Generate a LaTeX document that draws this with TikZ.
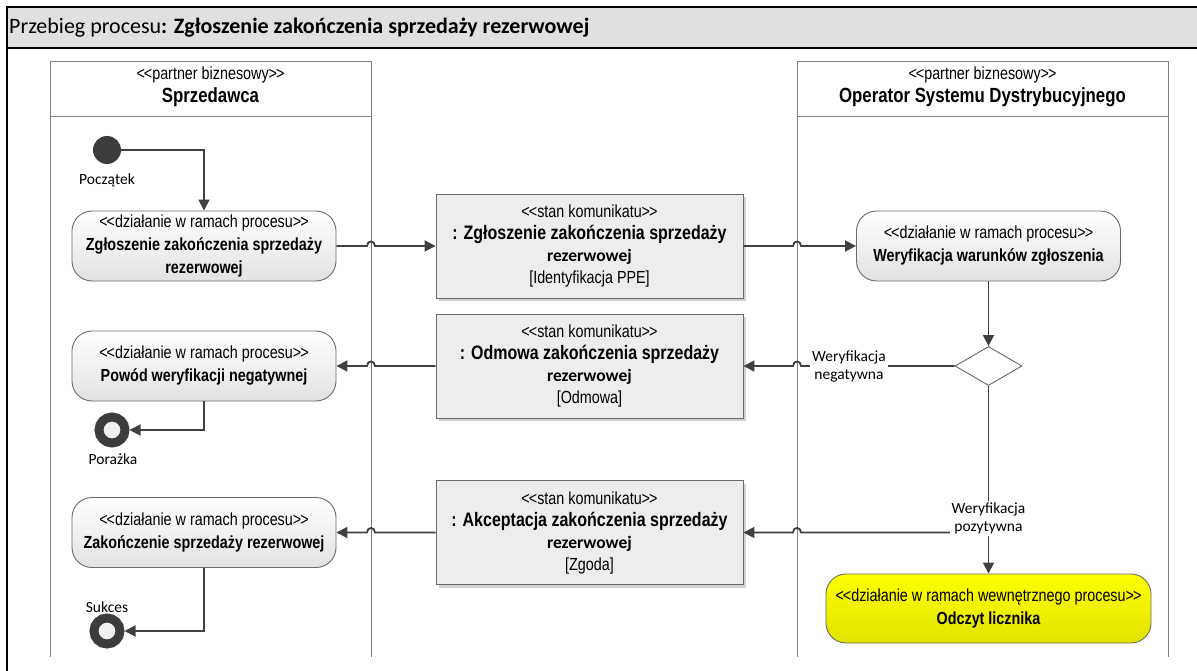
\documentclass[tikz,border=0pt]{standalone}
\usepackage{fontspec}
\setmainfont{Liberation Sans}
\newfontfamily\nar[FakeStretch=0.82]{Liberation Sans}
\newfontfamily\calf{Carlito}
\usetikzlibrary{arrows.meta,shapes.geometric,shadows}
\definecolor{ink}{HTML}{404040}
\definecolor{boxc}{HTML}{6A6A6A}
\definecolor{lanec}{HTML}{808080}
\definecolor{msgc}{HTML}{EDEDED}
\definecolor{actbot}{HTML}{E2E2E2}
\definecolor{bandc}{HTML}{E0E0E0}
\definecolor{shadowc}{HTML}{D2D2D2}
\definecolor{ytop}{HTML}{FFFF00}
\definecolor{ybot}{HTML}{E2E200}
\definecolor{dotc}{HTML}{3C3C3C}
\newcommand\stq[1]{<\kern-1pt<#1>\kern-1pt>}
\tikzset{
  every node/.style={inner sep=0pt},
  laneline/.style={draw=lanec, line width=1pt},
  act/.style={rectangle, rounded corners=20pt, draw=boxc, line width=0.9pt,
    top color=white, bottom color=actbot, minimum width=264pt, minimum height=70pt,
    align=center, font=\nar\fontsize{17.5}{23}\selectfont},
  msg/.style={rectangle, draw=boxc, line width=0.9pt, fill=msgc,
    minimum width=307pt, minimum height=104pt, align=center,
    font=\nar\fontsize{17.5}{22}\selectfont,
    drop shadow={shadow xshift=3pt, shadow yshift=-3pt, fill=shadowc, opacity=1}},
  flow/.style={draw=ink, line width=1.8pt, -{Triangle[length=11pt,width=11pt]}},
  lbl/.style={font=\calf\fontsize{15.5}{18}\selectfont, align=center},
  finalnode/.style={circle, draw=dotc, line width=9pt, fill=white!94!black, minimum size=26pt},
}
\newcommand\msgname[1]{\fontsize{19.5}{22}\selectfont\bfseries #1}
\newcommand\msgrez{\calf\bfseries rezerwowej}
\begin{document}
\begin{tikzpicture}[x=1pt,y=-1pt]
\useasboundingbox (0,0) rectangle (1197,671);
% frame
\fill[bandc] (7,7) rectangle (1197,48);
\draw[black, line width=1.3pt] (1197,7) -- (7,7) -- (7,671);
\draw[black, line width=1.3pt] (7,48) -- (1197,48);
\node[anchor=west, font=\calf\fontsize{22}{26}\selectfont] (title) at (9,28)
  {Przebieg procesu\textbf{: Zgłoszenie zakończenia sprzedaży rezerwowej}};
% lanes
\draw[laneline] (50,657) -- (50,62) -- (371,62) -- (371,657);
\draw[laneline] (50,117) -- (371,117);
\draw[laneline] (797,657) -- (797,62) -- (1168,62) -- (1168,657);
\draw[laneline] (797,117) -- (1168,117);
\node[align=center, font=\nar\fontsize{17.5}{23}\selectfont] (L1) at (210.5,86.5)
  {\stq{partner biznesowy}\\ \fontsize{20.5}{23}\selectfont\bfseries Sprzedawca};
\node[align=center, font=\nar\fontsize{17.5}{23}\selectfont] (L2) at (982.5,86.5)
  {\stq{partner biznesowy}\\ \fontsize{20.5}{23}\selectfont\bfseries Operator Systemu Dystrybucyjnego};
% start
\node[circle, fill=dotc, minimum size=28pt] (start) at (107,150) {};
\node[lbl] (lstart) at (107,180) {Początek};
% activities
\node[act] (A1) at (204,246) {\stq{działanie w ramach procesu}\\ \bfseries Zgłoszenie zakończenia sprzedaży\\ \bfseries rezerwowej};
\node[act] (A2) at (988.5,246) {\stq{działanie w ramach procesu}\\ \bfseries Weryfikacja warunków zgłoszenia};
\node[act] (A3) at (204,366) {\stq{działanie w ramach procesu}\\ \bfseries Powód weryfikacji negatywnej};
\node[act] (A5) at (204,532.5) {\stq{działanie w ramach procesu}\\ \bfseries Zakończenie sprzedaży rezerwowej};
\node[act, top color=ytop, bottom color=ybot, minimum width=325pt, minimum height=69pt] (A4) at (988.5,608.5)
  {\stq{działanie w ramach wewnętrznego procesu}\\ \bfseries Odczyt licznika};
% messages
\node[msg] (M1) at (589.5,246) {\stq{stan komunikatu}\\ \msgname{: Zgłoszenie zakończenia sprzedaży}\\ \msgrez\\ {[}Identyfikacja PPE{]}};
\node[msg] (M2) at (589.5,366) {\stq{stan komunikatu}\\ \msgname{: Odmowa zakończenia sprzedaży}\\ \msgrez\\ {[}Odmowa{]}};
\node[msg] (M3) at (589.5,532.5) {\stq{stan komunikatu}\\ \msgname{: Akceptacja zakończenia sprzedaży}\\ \msgrez\\ {[}Zgoda{]}};
% decision
\node[diamond, draw=boxc, line width=0.9pt, fill=white, minimum width=67pt, minimum height=39pt, aspect=1.7] (D) at (988.5,366) {};
% finals
\node[finalnode] (F1) at (112,430) {};
\node[lbl] (lpor) at (113,459) {Porażka};
\node[finalnode] (F2) at (107,631) {};
\node[lbl] (lsuk) at (107,607) {Sukces};
\coordinate (J) at (988.5,532.5);
% connectors
\draw[flow] (start) -| (A1);
\draw[flow] (A1.east) -- (367,246) .. controls (367,240) and (375,240) .. (375,246) -- (M1.west);
\draw[flow] (M1.east) -- (793,246) .. controls (793,240) and (801,240) .. (801,246) -- (A2.west);
\draw[flow] (A2) -- (D);
\draw[flow] (D.west) -- (801,366) .. controls (801,360) and (793,360) .. (793,366) -- (M2.east);
\draw[flow] (M2.west) -- (375,366) .. controls (375,360) and (367,360) .. (367,366) -- (A3.east);
\draw[flow] (A3.south) |- (F1);
\draw[flow] (D) -- (A4);
\draw[flow] (J) -- (801,532.5) .. controls (801,526.5) and (793,526.5) .. (793,532.5) -- (M3.east);
\draw[flow] (M3.west) -- (375,532.5) .. controls (375,526.5) and (367,526.5) .. (367,532.5) -- (A5.east);
\draw[flow] (A5.south) |- (F2);
% guard labels
\node[lbl, fill=white, inner sep=2pt] (gneg) at (849,366) {Weryfikacja\\negatywna};
\node[lbl, fill=white, inner sep=2pt] (gpos) at (988.5,518.5) {Weryfikacja\\pozytywna};
\end{tikzpicture}
\end{document}
